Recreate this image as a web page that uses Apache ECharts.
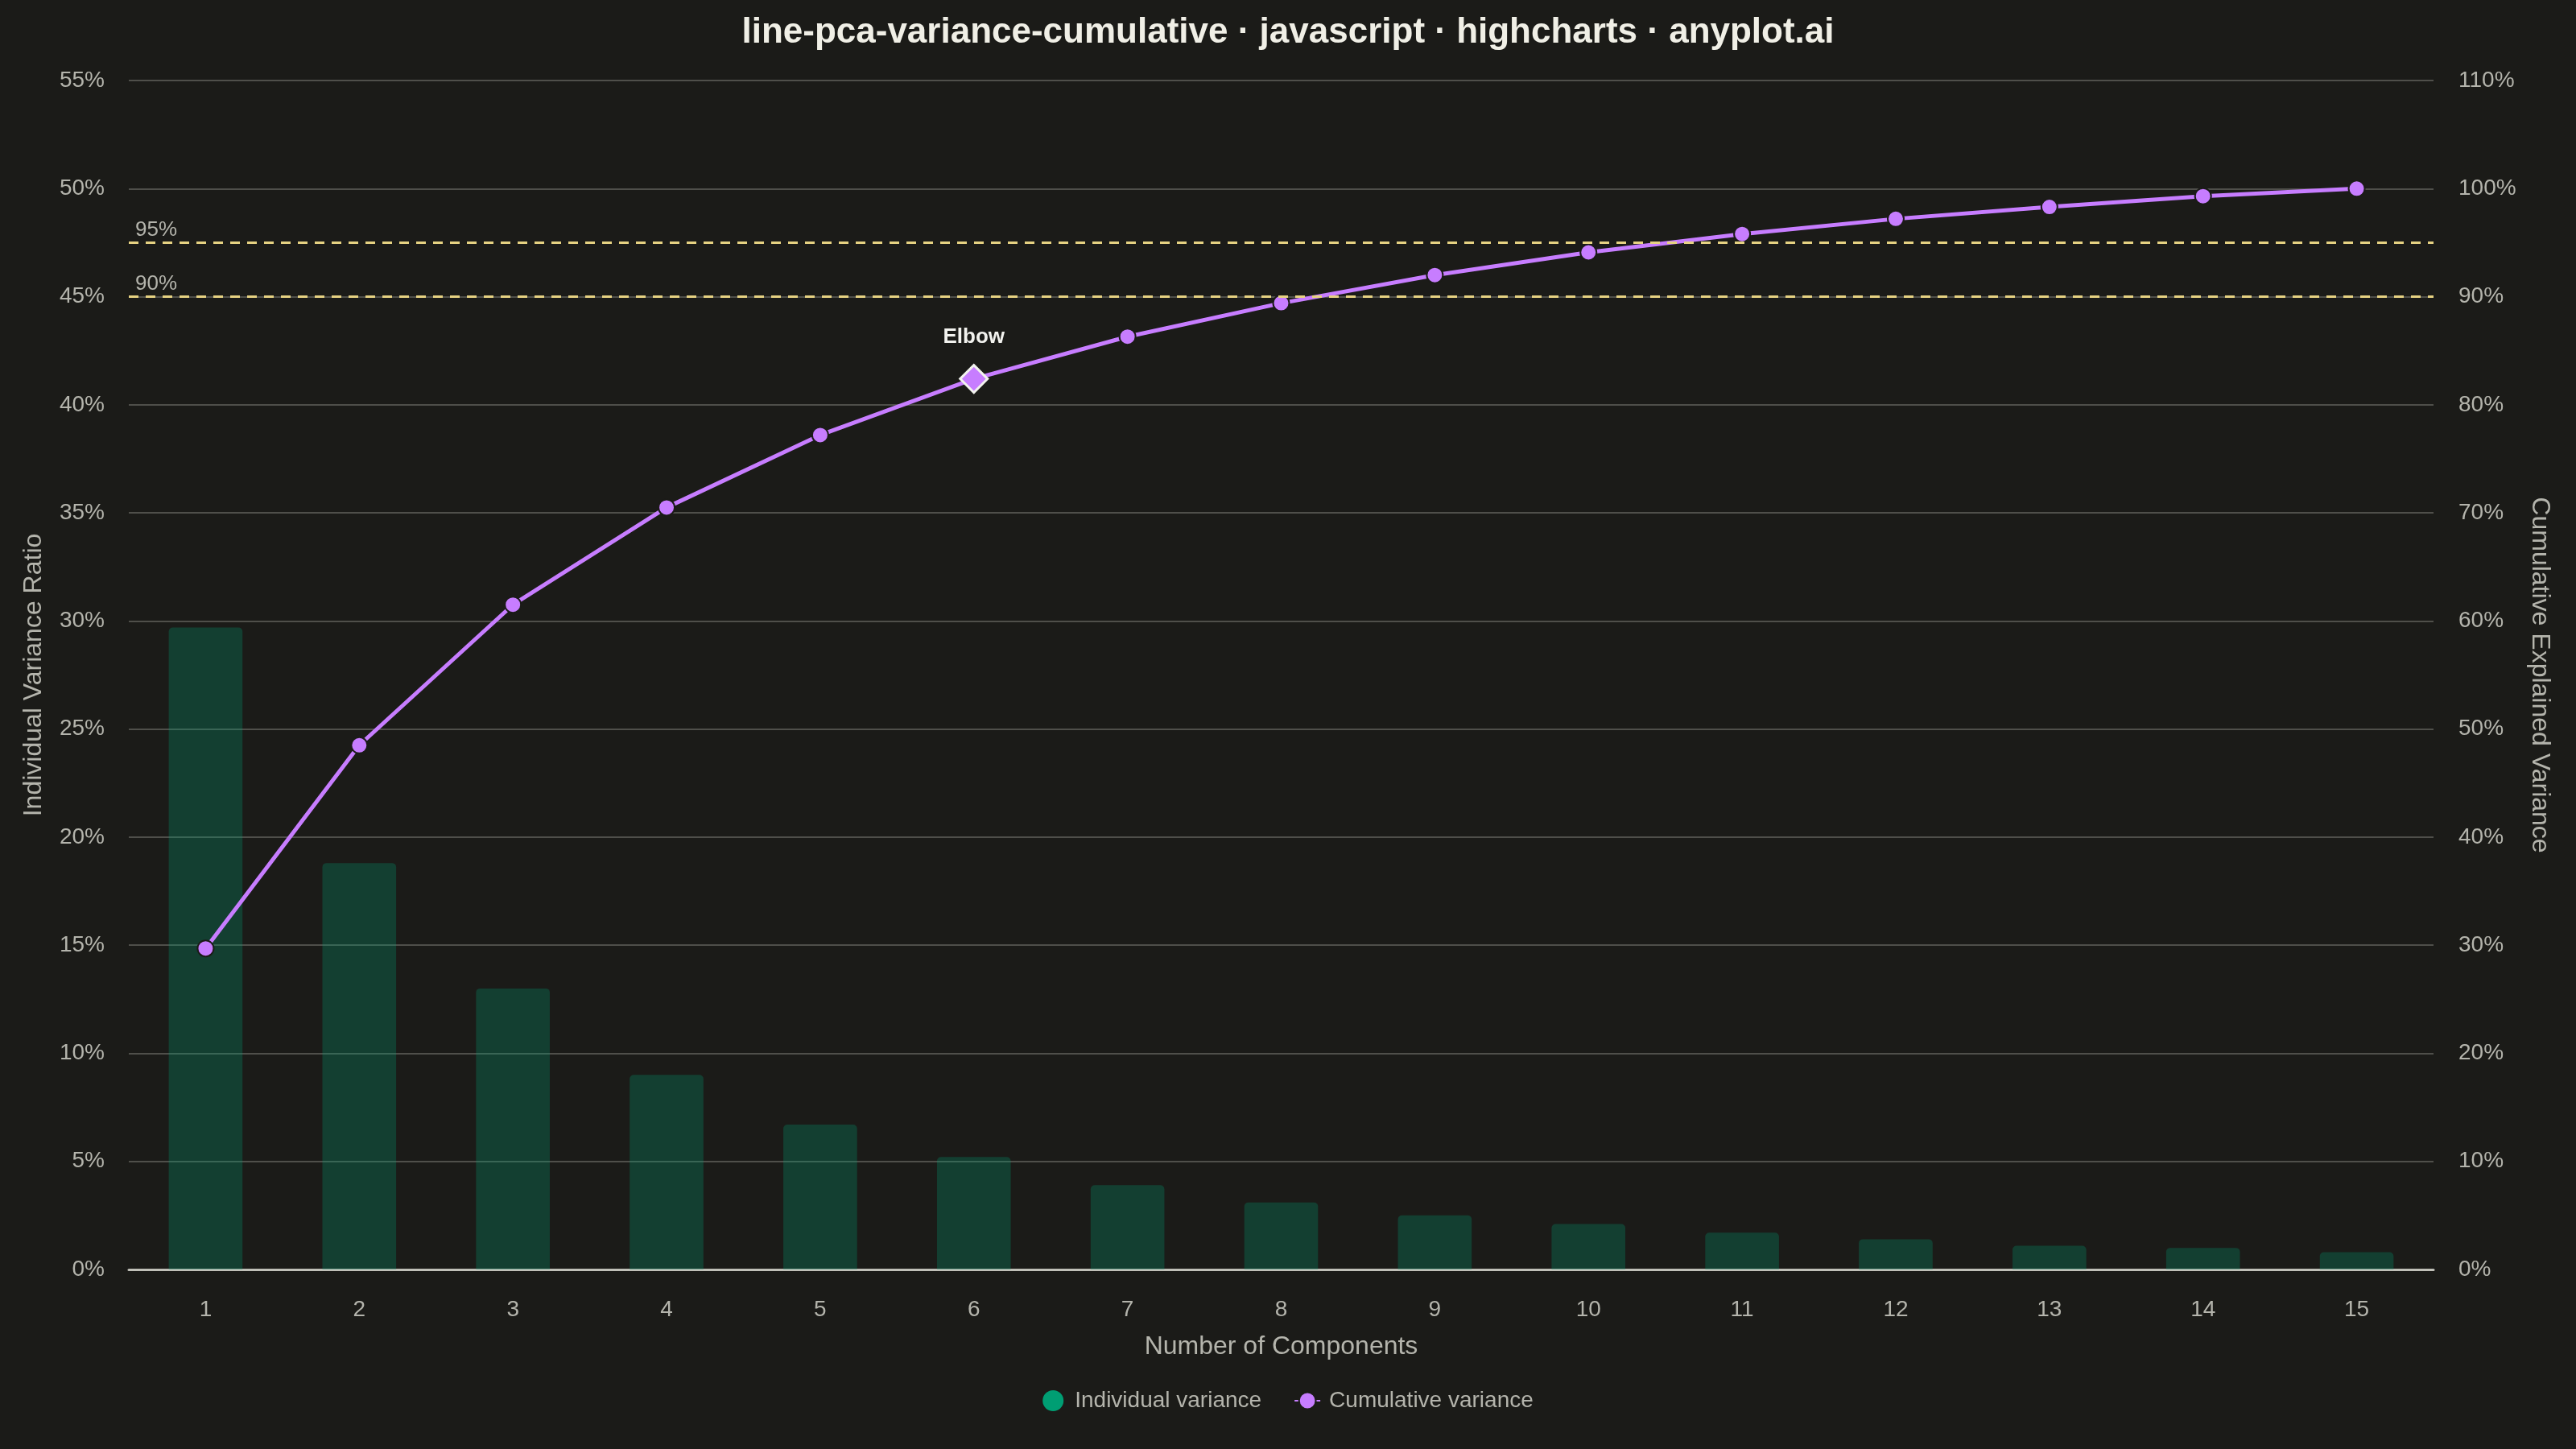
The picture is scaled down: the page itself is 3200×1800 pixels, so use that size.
<!DOCTYPE html>
<html>
<head>
<meta charset="utf-8">
<title>line-pca-variance-cumulative</title>
<script src="https://cdn.jsdelivr.net/npm/echarts@6/dist/echarts.min.js"></script>
<style>
  html, body { margin: 0; padding: 0; background: #1b1b18; }
  #chart { width: 3200px; height: 1800px; }
</style>
</head>
<body>
<div id="chart"></div>
<script>
// components on the x axis
const components = ["1", "2", "3", "4", "5", "6", "7", "8", "9", "10", "11", "12", "13", "14", "15"];
// individual explained variance ratio (%)
const individualVariance = [29.7, 18.8, 13.0, 9.0, 6.7, 5.2, 3.9, 3.1, 2.5, 2.1, 1.7, 1.4, 1.1, 1.0, 0.8];
// cumulative explained variance (%)
const cumulativeVariance = [29.7, 48.5, 61.5, 70.5, 77.2, 82.4, 86.3, 89.4, 92.0, 94.1, 95.8, 97.2, 98.3, 99.3, 100.0];
// threshold lines on the cumulative axis (%)
const thresholds = [90, 95];
// index of the elbow point
const elbowIndex = 5;

const FONT = "'Liberation Sans', Arial, sans-serif";
const TEXT = "#b4b4ac";
const PURPLE = "#c77dff";
const GREEN = "#009e73";

const chart = echarts.init(document.getElementById("chart"));

const lineData = cumulativeVariance.map((v, i) => {
  if (i !== elbowIndex) return v;
  return {
    value: v,
    symbol: "diamond",
    symbolSize: 34,
    itemStyle: { color: PURPLE, borderColor: "#f2f2ee", borderWidth: 3 },
    label: {
      show: true,
      position: "top",
      distance: 20,
      formatter: "Elbow",
      color: "#f2f2ee",
      fontSize: 26,
      fontWeight: "bold",
      fontFamily: FONT,
    },
  };
});

const option = {
  backgroundColor: "#1b1b18",
  textStyle: { fontFamily: FONT },
  title: {
    text: "line-pca-variance-cumulative · javascript · highcharts · anyplot.ai",
    left: "center",
    top: 14,
    textStyle: { color: "#f0efe6", fontSize: 44, fontWeight: "bold", fontFamily: FONT },
  },
  legend: {
    bottom: 41,
    left: "center",
    itemGap: 40,
    itemWidth: 32,
    itemHeight: 26,
    textStyle: { color: TEXT, fontSize: 28, fontFamily: FONT, padding: [0, 0, 0, 6] },
    data: [
      { name: "Individual variance", icon: "circle", itemStyle: { color: GREEN } },
      { name: "Cumulative variance" },
    ],
  },
  grid: { left: 160, right: 177, top: 100, bottom: 223 },
  xAxis: {
    type: "category",
    data: components,
    name: "Number of Components",
    nameLocation: "middle",
    nameGap: 80,
    nameTextStyle: { color: TEXT, fontSize: 32, fontFamily: FONT },
    axisLine: { lineStyle: { color: "#c0c0b8", width: 3 } },
    axisTick: { show: false },
    axisLabel: { color: TEXT, fontSize: 28, margin: 36, fontFamily: FONT },
  },
  yAxis: [
    {
      type: "value",
      min: 0,
      max: 55,
      interval: 5,
      name: "Individual Variance Ratio",
      nameLocation: "middle",
      nameGap: 102,
      nameTextStyle: { color: TEXT, fontSize: 32, fontFamily: FONT },
      axisLine: { show: false },
      axisTick: { show: false },
      axisLabel: {
        color: TEXT, fontSize: 28, margin: 30, formatter: "{value}%",
        fontFamily: FONT, padding: [7, 0, 0, 0],
      },
      splitLine: { lineStyle: { color: "#4f4f4a", width: 2 } },
    },
    {
      type: "value",
      min: 0,
      max: 110,
      interval: 10,
      name: "Cumulative Explained Variance",
      nameLocation: "middle",
      nameGap: 116,
      nameRotate: -90,
      nameTextStyle: { color: TEXT, fontSize: 32, fontFamily: FONT },
      axisLine: { show: false },
      axisTick: { show: false },
      axisLabel: {
        color: TEXT, fontSize: 28, margin: 31, formatter: "{value}%",
        fontFamily: FONT, padding: [7, 0, 0, 0],
      },
      splitLine: { show: false },
    },
  ],
  series: [
    {
      name: "Individual variance",
      type: "bar",
      data: individualVariance,
      barWidth: "48%",
      itemStyle: { color: "rgba(0,158,115,0.28)", borderRadius: [5, 5, 0, 0] },
      z: 2,
    },
    {
      name: "thresholds",
      type: "line",
      yAxisIndex: 1,
      data: [],
      z: 1,
      markLine: {
        silent: true,
        symbol: "none",
        lineStyle: { color: "#e6d282", type: [12, 9], width: 3 },
        label: {
          position: "insideStartTop",
          distance: [8, 3],
          color: TEXT,
          fontSize: 26,
          fontFamily: FONT,
          formatter: (p) => p.value + "%",
        },
        data: thresholds.map((t) => ({ yAxis: t })),
      },
    },
    {
      name: "Cumulative variance",
      type: "line",
      yAxisIndex: 1,
      data: lineData,
      symbol: "circle",
      symbolSize: 20,
      lineStyle: { color: PURPLE, width: 5 },
      itemStyle: { color: PURPLE, borderColor: "#1b1b18", borderWidth: 2 },
      z: 3,
    },
  ],
};

chart.setOption(option);
</script>
</body>
</html>
